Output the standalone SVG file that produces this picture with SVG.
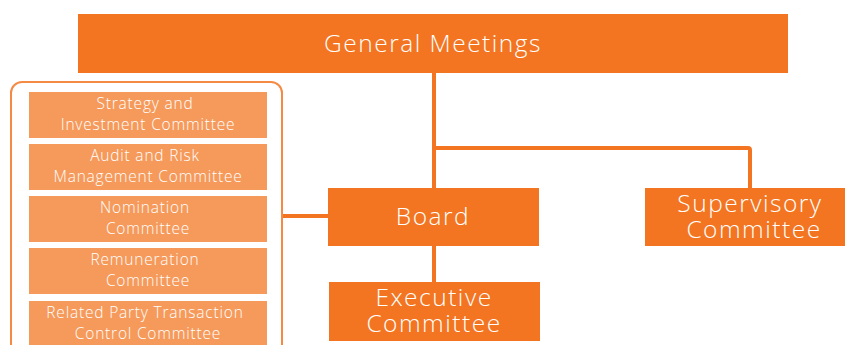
<svg xmlns="http://www.w3.org/2000/svg" width="845" height="345" viewBox="0 0 845 345">
<style>
.main{fill:#F37521}
.sub{fill:#F69A5B}
.t{font-family:"Open Sans","Liberation Sans",sans-serif;fill:#FFFFFF;text-anchor:middle;font-weight:300}
.big{font-size:24.5px;letter-spacing:1.5px}
.small{font-size:15.5px;letter-spacing:0.8px}
.c{stroke:#F37521;stroke-width:4;fill:none}
</style>
<rect width="845" height="345" fill="#FFFFFF"/>
<g id="connectors">
<path class="c" d="M434 73 V188"/>
<path class="c" d="M434 148 H748 Q750 148 750 150 V188"/>
<path class="c" d="M434 246 V282"/>
<path class="c" d="M282 216 H328" stroke-width="3"/>
</g>
<g id="general-meetings">
<rect class="main" x="78" y="14" width="710" height="59"/>
<text class="t big" x="433" y="52">General Meetings</text>
</g>
<g id="board">
<rect class="main" x="328" y="188" width="211" height="58"/>
<text class="t big" x="433" y="225">Board</text>
</g>
<g id="supervisory-committee">
<rect class="main" x="645" y="188" width="200" height="58"/>
<text class="t big"><tspan x="750" y="212">Supervisory</tspan><tspan x="754" y="238">Committee</tspan></text>
</g>
<g id="executive-committee">
<rect class="main" x="329" y="282" width="211" height="59"/>
<text class="t big"><tspan x="434" y="306">Executive</tspan><tspan x="434" y="332">Committee</tspan></text>
</g>
<g id="committees">
<rect x="11" y="82" width="271" height="290" rx="11" fill="none" stroke="#F58A45" stroke-width="2"/>
<g id="strategy">
<rect class="sub" x="29" y="92" width="238" height="46"/>
<text class="t small"><tspan x="145" y="109">Strategy and</tspan><tspan x="148" y="130">Investment Committee</tspan></text>
</g>
<g id="audit">
<rect class="sub" x="29" y="144" width="238" height="46"/>
<text class="t small"><tspan x="145" y="161">Audit and Risk</tspan><tspan x="148" y="182">Management Committee</tspan></text>
</g>
<g id="nomination">
<rect class="sub" x="29" y="196" width="238" height="46"/>
<text class="t small"><tspan x="145" y="213">Nomination</tspan><tspan x="148" y="234">Committee</tspan></text>
</g>
<g id="remuneration">
<rect class="sub" x="29" y="248" width="238" height="46"/>
<text class="t small"><tspan x="145" y="265">Remuneration</tspan><tspan x="148" y="286">Committee</tspan></text>
</g>
<g id="related-party">
<rect class="sub" x="29" y="301" width="238" height="50"/>
<text class="t small"><tspan x="145" y="318">Related Party Transaction</tspan><tspan x="148" y="339">Control Committee</tspan></text>
</g>
</g>
</svg>
